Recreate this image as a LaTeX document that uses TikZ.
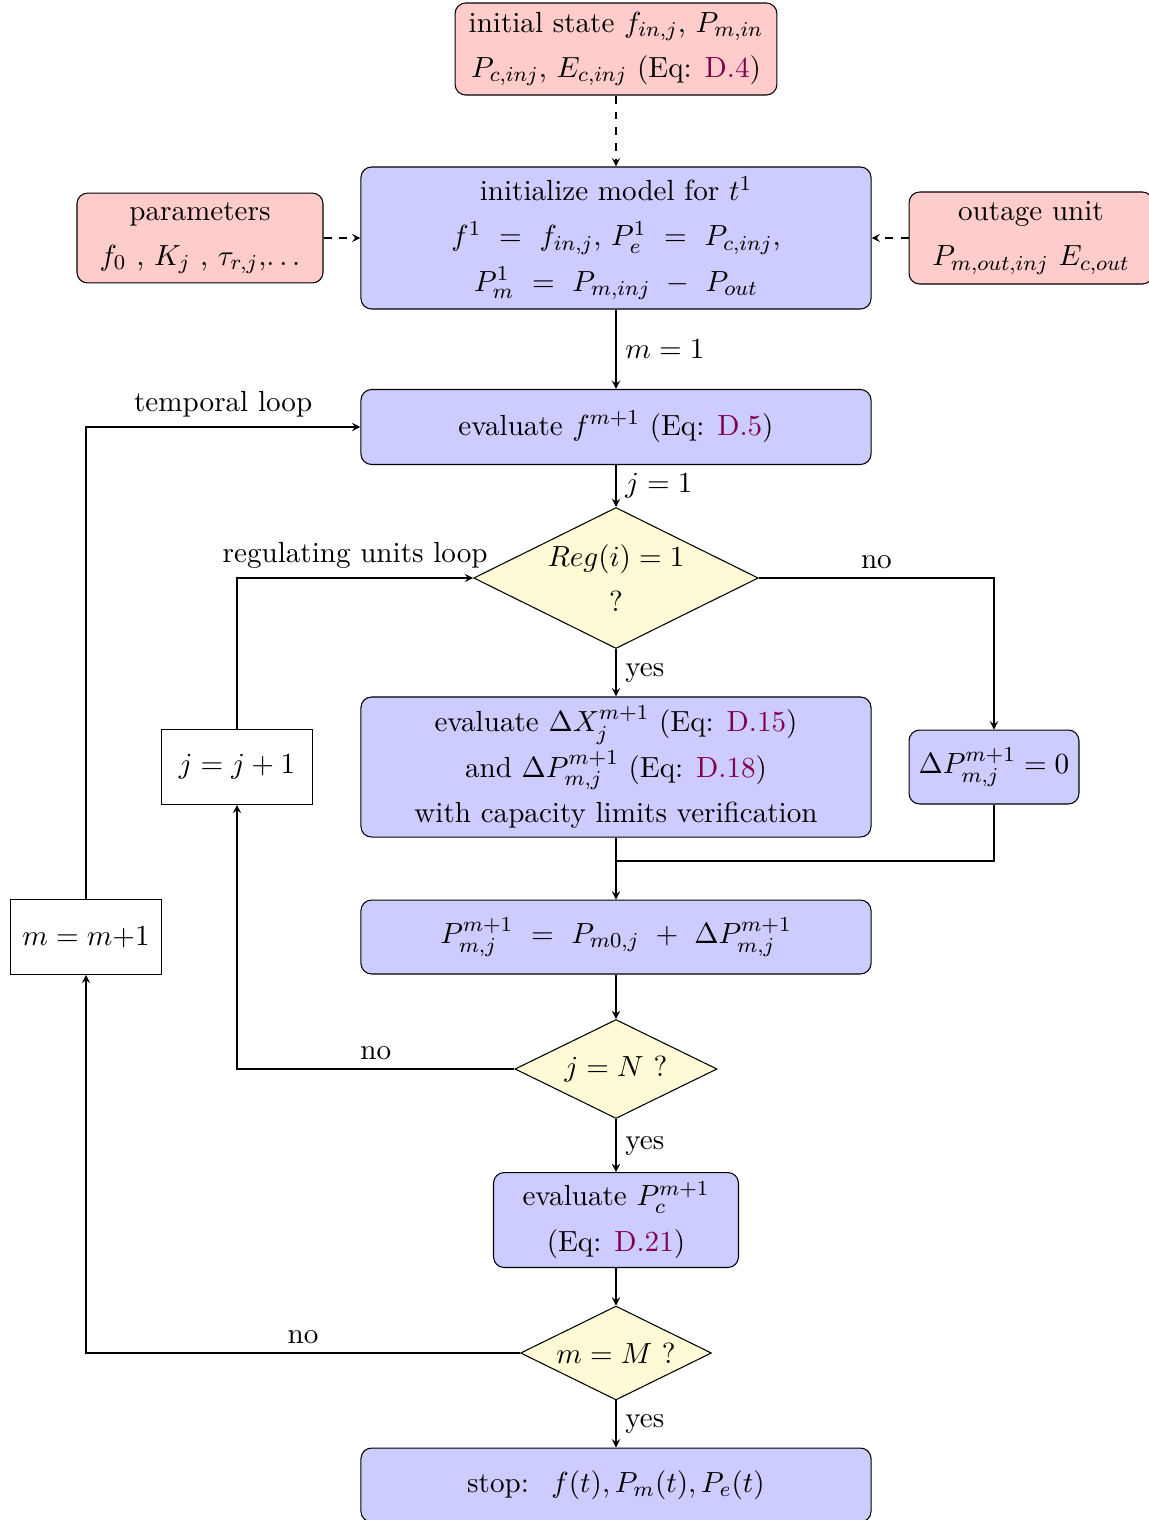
\documentclass[tikz,border=0pt]{standalone}
\usepackage{amsmath}
\usepackage{amssymb,latexsym}
\usetikzlibrary{shapes.geometric}
\usetikzlibrary{calc}
\definecolor{eqlink}{rgb}{0.5,0,0.3}
\definecolor{boxblue}{rgb}{0.8,0.8,1}
\definecolor{boxred}{rgb}{1,0.8,0.8}
\definecolor{boxyellow}{rgb}{1,0.98,0.84}
\newcommand{\eqlk}[1]{\textcolor{eqlink}{#1}}
\newcommand{\boxfont}{\fontsize{10.95}{17}\selectfont}
\tikzset{procbox/.style={rectangle, rounded corners, draw, fill=boxblue, align=center, font=\boxfont, minimum width=191.8pt}}
\tikzset{inbox/.style={rectangle, rounded corners, draw, fill=boxred, align=center, font=\boxfont}}
\tikzset{testbox/.style={diamond, aspect=2, draw, fill=boxyellow, inner sep=0pt, align=center, font=\boxfont}}
\tikzset{countbox/.style={rectangle, draw, fill=white, minimum width=56.8pt, minimum height=28pt}}
\tikzset{flow/.style={-stealth}, feed/.style={dashed, -stealth}}

\begin{document}
\begin{tikzpicture}[x=0.376pt, y=-0.376pt, font=\fontsize{10.95}{13.6}\selectfont]
\useasboundingbox (0,0) rectangle (1149,1520);

% inputs
\node[inbox, minimum width=121pt, minimum height=34.6pt] (init) at (616,49) {initial state $f_{in,j}$, $P_{m,in}$\\ $P_{c,inj}$, $E_{c,inj}$ (Eq: \eqlk{D.4})};
\node[inbox, minimum width=92.5pt, minimum height=33.8pt] (param) at (200,238) {parameters\\ $f_0$ , $K_j$ , $\tau_{r,j}$,$\ldots$};
\node[inbox, minimum width=91.7pt, minimum height=34.6pt] (outage) at (1031,238) {outage unit\\ $P_{m,out,inj}$ $E_{c,out}$};

% main column
\node[procbox, minimum height=53.4pt] (initmod) at (616,238) {initialize model for $t^1$\\ $f^1 \ = \ f_{in,j}$, $P^1_e \ = \ P_{c,inj}$,\\ $P^1_m \ = \ P_{m,inj} \ - \ P_{out}$};
\node[procbox, minimum height=28.2pt] (evalf) at (616,427) {evaluate $f^{m+1}$ (Eq: \eqlk{D.5})};
\node[testbox, minimum width=107pt, minimum height=53pt] (reg) at (616,578) {$Reg(i) = 1$\\ ?};
\node[procbox, minimum height=52.6pt] (dx) at (616,767) {evaluate $\Delta X_j^{m+1}$ (Eq: \eqlk{D.15})\\ and $\Delta P_{m,j}^{m+1}$ (Eq: \eqlk{D.18})\\ with capacity limits verification};
\node[procbox, minimum width=63.9pt, minimum height=27.8pt] (dp0) at (994,767) {$\Delta P_{m,j}^{m+1} = 0$};
\node[countbox] (jinc) at (237,767) {$j = j+1$};
\node[procbox, minimum height=27.8pt] (pmj) at (616,937) {$P_{m,j}^{m+1} \ = \ P_{m0,j} \ + \ \Delta P_{m,j}^{m+1}$};
\node[countbox] (minc) at (86,937) {$m = m{+}1$};
\node[testbox, minimum width=76pt, minimum height=37.2pt] (jN) at (616,1069) {$j = N$ ?};
\node[procbox, minimum width=92.1pt, minimum height=35.7pt] (pc) at (616,1220) {evaluate $P_c^{m+1}$\\ (Eq: \eqlk{D.21})};
\node[testbox, minimum width=71.8pt, minimum height=35.3pt] (mM) at (616,1353) {$m = M$ ?};
\node[procbox, minimum height=27.8pt] (stop) at (616,1485) {stop: \ $f(t), P_m(t), P_e(t)$};

\coordinate (merge) at (616,861);

% dashed inputs
\draw[feed] (init) -- (initmod);
\draw[feed] (param) -- (initmod);
\draw[feed] (outage) -- (initmod);

% flow
\draw[flow] (initmod) -- node[right] {$m = 1$} (evalf);
\draw[flow] (evalf) -- node[right] {$j = 1$} (reg);
\draw[flow] (reg) -- node[right] {yes} (dx);
\draw[flow] (reg.east) -| node[pos=0.25, above] {no} (dp0.north);
\draw[flow] (dx) -- (pmj);
\draw (dp0.south) |- (merge);
\draw[flow] (pmj) -- (jN);
\draw[flow] (jN.west) -| node[pos=0.25, above] {no} (jinc.south);
\draw[flow] (jinc.north) |- node[pos=0.75, above] {regulating units loop} (reg.west);
\draw[flow] (jN) -- node[right] {yes} (pc);
\draw[flow] (pc) -- (mM);
\draw[flow] (mM.west) -| node[pos=0.25, above] {no} (minc.south);
\draw[flow] (minc.north) |- node[pos=0.75, above] {temporal loop} (evalf.west);
\draw[flow] (mM) -- node[right] {yes} (stop);
\end{tikzpicture}
\end{document}
